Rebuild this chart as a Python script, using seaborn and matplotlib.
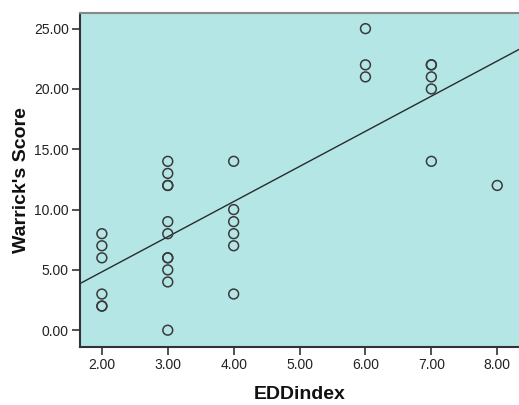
import pandas as pd
import matplotlib.pyplot as plt
import seaborn as sns

# values
edd_index = [2, 2, 2, 2, 2, 2,
             3, 3, 3, 3, 3, 3, 3, 3, 3, 3, 3,
             4, 4, 4, 4, 4, 4,
             6, 6, 6,
             7, 7, 7, 7, 7,
             8]
warrick_score = [8, 7, 6, 3, 2, 2,
                 14, 13, 12, 12, 9, 8, 6, 6, 5, 4, 0,
                 14, 10, 9, 8, 7, 3,
                 25, 22, 21,
                 22, 22, 21, 20, 14,
                 12]
x_ticks = [2, 3, 4, 5, 6, 7, 8]
y_ticks = [0, 5, 10, 15, 20, 25]

df = pd.DataFrame({"EDDindex": edd_index, "Warrick's Score": warrick_score})

sns.set_style("ticks")
plt.rcParams["font.family"] = ["Liberation Sans", "DejaVu Sans"]

fig = plt.figure(figsize=(5.19, 4.05), dpi=100)
ax = fig.add_axes([0.154, 0.143, 0.846, 0.825])
ax.set_facecolor("#b4e6e6")

ax.set_xlim(1.667, 8.33)
ax.set_ylim(-1.4, 26.3)

sns.regplot(data=df, x="EDDindex", y="Warrick's Score", ax=ax, scatter=False,
            ci=None, truncate=False, line_kws={"color": "#2a2a2a", "linewidth": 1.0})
sns.scatterplot(data=df, x="EDDindex", y="Warrick's Score", ax=ax, s=50,
                facecolors="none", edgecolor="#3a3a3a", linewidth=1.1, zorder=3)

ax.set_xticks(x_ticks)
ax.set_yticks(y_ticks)
ax.set_xticklabels([f"{v:.2f}" for v in x_ticks])
ax.set_yticklabels([f"{v:.2f}" for v in y_ticks])
ax.tick_params(axis="both", labelsize=10, length=6, width=1.2, color="#333333",
               labelcolor="#222222", direction="out", pad=2)

for side in ["left", "bottom"]:
    ax.spines[side].set_color("#333333")
    ax.spines[side].set_linewidth(1.5)
ax.spines["top"].set_color("#888888")
ax.spines["top"].set_linewidth(1.5)
ax.spines["right"].set_visible(False)

ax.set_xlabel("EDDindex", fontsize=14, fontweight="bold", labelpad=10, color="#111111")
ax.set_ylabel("Warrick's Score", fontsize=14, fontweight="bold", labelpad=3, color="#111111")

fig.savefig("out.png", dpi=100)
